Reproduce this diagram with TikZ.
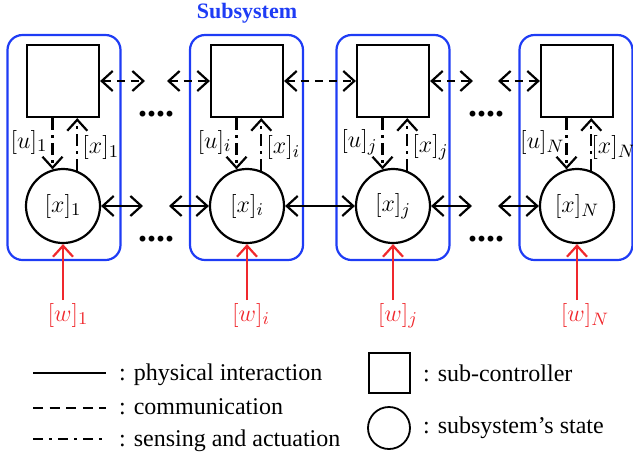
\documentclass[tikz,border=0pt]{standalone}
\usepackage[no-math]{fontspec}
\setmainfont{Liberation Serif}
\usetikzlibrary{arrows.meta,positioning}
\definecolor{sysblue}{RGB}{30,60,245}
\definecolor{noisered}{RGB}{240,40,45}
\tikzset{
	ctrl/.style={draw,minimum size=36pt,inner sep=0pt},
	state/.style={draw,circle,minimum size=37pt,inner sep=0pt,font=\fontsize{13}{13}\selectfont},
	subsys/.style={draw=sysblue,rounded corners=7.5pt,minimum width=56.5pt,minimum height=112.5pt},
	comm/.style={dash pattern=on 4pt off 3pt},
	sense/.style={dash pattern=on 6pt off 2.5pt on 1.5pt off 2.5pt},
	lbl/.style={inner sep=1pt,font=\fontsize{12.5}{12.5}\selectfont},
	wlbl/.style={lbl,text=noisered,anchor=north},
	dots/.style={inner sep=0pt,font=\fontsize{18}{18}\selectfont\bfseries},
	legend/.style={inner sep=1pt,anchor=base west,font=\fontsize{12}{14}\selectfont},
}

\begin{document}
\begin{tikzpicture}[x=0.5pt,y=-0.5pt,line width=1.1pt,>={Straight Barb[length=5.5pt,width=10pt]}]
	\useasboundingbox (0,0) rectangle (633,457);

	% subsystems
	\node[subsys] (sys1) at (64,147.5) {};
	\node[subsys] (sysi) at (246.5,147.5) {};
	\node[subsys] (sysj) at (393,147.5) {};
	\node[subsys] (sysN) at (576,147.5) {};
	\node[font=\fontsize{11}{11}\selectfont\bfseries,text=sysblue] (title) at (247,13) {Subsystem};

	\node[ctrl] (ctrl1) at (63,81) {};
	\node[ctrl] (ctrli) at (247,81) {};
	\node[ctrl] (ctrlj) at (393,81) {};
	\node[ctrl] (ctrlN) at (577,81) {};

	\node[state] (st1) at (63,206) {\([x]_1\)};
	\node[state] (sti) at (247,206) {\([x]_i\)};
	\node[state] (stj) at (393,206) {\([x]_j\)};
	\node[state] (stN) at (577,206) {\([x]_N\)};

	% sensing and actuation
	\draw[sense,->] (st1.106 |- ctrl1.south) to node[lbl,left=1pt,pos=.47] {\([u]_1\)} (st1.106);
	\draw[sense,->] (st1.68) to node[lbl,right=1pt,pos=.44] {\([x]_1\)} (st1.68 |- ctrl1.south);
	\draw[sense,->] (sti.106 |- ctrli.south) to node[lbl,left=1pt,pos=.47] {\([u]_i\)} (sti.106);
	\draw[sense,->] (sti.68) to node[lbl,right=1pt,pos=.44] {\([x]_i\)} (sti.68 |- ctrli.south);
	\draw[sense,->] (stj.106 |- ctrlj.south) to node[lbl,left=1pt,pos=.47] {\([u]_j\)} (stj.106);
	\draw[sense,->] (stj.68) to node[lbl,right=1pt,pos=.44] {\([x]_j\)} (stj.68 |- ctrlj.south);
	\draw[sense,->] (stN.106 |- ctrlN.south) to node[lbl,left=-0.5pt,pos=.47] {\([u]_N\)} (stN.106);
	\draw[sense,->] (stN.68) to node[lbl,right=-1.5pt,pos=.44] {\([x]_N\)} (stN.68 |- ctrlN.south);

	% communication and physical interaction
	\coordinate (cL1) at (145,81);
	\coordinate (cL2) at (167,81);
	\coordinate (cR1) at (473,81);
	\coordinate (cR2) at (498,81);
	\coordinate (pL1) at (143,206);
	\coordinate (pL2) at (169,206);
	\coordinate (pR1) at (472,206);
	\coordinate (pR2) at (498,206);

	\draw[comm,<->] (ctrl1) -- (cL1);
	\draw[comm,<->] (cL2) -- (ctrli);
	\draw[comm,<->] (ctrli) -- (ctrlj);
	\draw[comm,<->] (ctrlj) -- (cR1);
	\draw[comm,<->] (cR2) -- (ctrlN);

	\draw[<->] (st1) -- (pL1);
	\draw[<->] (pL2) -- (sti);
	\draw[<->] (sti) -- (stj);
	\draw[<->] (stj) -- (pR1);
	\draw[<->] (pR2) -- (stN);

	\node[dots] (dotsL1) at (156,114) {....};
	\node[dots] (dotsL2) at (156,239) {....};
	\node[dots] (dotsR1) at (486,114) {....};
	\node[dots] (dotsR2) at (486,239) {....};

	% disturbances
	\node[wlbl] (w1) at (68,300) {\([w]_1\)};
	\node[wlbl] (wi) at (251,300) {\([w]_i\)};
	\node[wlbl] (wj) at (398,300) {\([w]_j\)};
	\node[wlbl] (wN) at (585,300) {\([w]_N\)};
	\draw[noisered,->] (st1.south |- w1.north) -- (st1.south);
	\draw[noisered,->] (sti.south |- wi.north) -- (sti.south);
	\draw[noisered,->] (stj.south |- wj.north) -- (stj.south);
	\draw[noisered,->] (stN.south |- wN.north) -- (stN.south);

	% legend
	\draw[line width=0.9pt] (33,373) -- (106,373);
	\draw[line width=0.9pt,dash pattern=on 5pt off 3.3pt] (33,408) -- (106,408);
	\draw[line width=0.9pt,dash pattern=on 5pt off 3pt on 1.5pt off 3pt] (33,439) -- (106,439);
	\node[legend] (lgphys) at (116,380) {: physical interaction};
	\node[legend] (lgcomm) at (116,414) {: communication};
	\node[legend] (lgsense) at (116,446) {: sensing and actuation};

	\node[draw,line width=0.9pt,minimum width=20.5pt,minimum height=20pt,inner sep=0pt] (lgctrl) at (389.5,373) {};
	\node[draw,line width=0.9pt,circle,minimum size=21pt,inner sep=0pt] (lgstate) at (389,428) {};
	\node[legend] (lgctrltxt) at (420,381) {: sub-controller};
	\node[legend] (lgstatetxt) at (420,433) {: subsystem’s state};
\end{tikzpicture}
\end{document}
